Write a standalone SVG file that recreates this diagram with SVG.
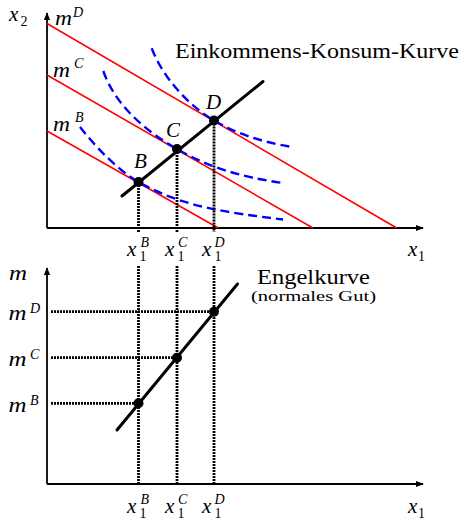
<svg xmlns="http://www.w3.org/2000/svg" width="464" height="519" viewBox="0 0 464 519">
<defs>
<marker id="arr" viewBox="0 0 10 10" refX="9" refY="5" markerWidth="8" markerHeight="8" markerUnits="userSpaceOnUse" orient="auto"><path d="M0,1 L10,5 L0,9 z" fill="#000"/></marker>
<style>
.axis{stroke:#000;stroke-width:1.8;fill:none}
.budget{stroke:#ff0000;stroke-width:1.5;fill:none}
.ic{stroke:#0000ff;stroke-width:2.4;fill:none;stroke-dasharray:9 5}
.curve{stroke:#000;stroke-width:3;stroke-linecap:round;fill:none}
.dot{fill:#000}
.dotted{stroke:#000;stroke-width:2.8;stroke-dasharray:2 1;fill:none}
.math{font-family:"Liberation Serif",serif;font-style:italic;font-size:21px;fill:#000}
.mm{font-family:"Liberation Serif",serif;font-style:italic;font-size:22px;fill:#000}
.sup{font-family:"Liberation Serif",serif;font-style:italic;font-size:14px;fill:#000}
.sub{font-family:"Liberation Serif",serif;font-size:14px;fill:#000}
.txt{font-family:"Liberation Serif",serif;font-size:20px;fill:#000}
.small{font-family:"Liberation Serif",serif;font-size:15px;fill:#000}
</style>
</defs>
<rect width="464" height="519" fill="#fff"/>

<g id="top-panel">
  <g id="top-axes">
    <line class="axis" x1="47" y1="228" x2="47" y2="13" marker-end="url(#arr)"/>
    <line class="axis" x1="47" y1="228" x2="423" y2="228" marker-end="url(#arr)"/>
    <text class="math" x="9" y="21">x</text><text class="sub" x="20.5" y="26">2</text>
    <text class="math" x="408" y="256">x</text><text class="sub" x="418" y="260.5">1</text>
  </g>
  <g id="budget-lines">
    <line class="budget" x1="47" y1="23.5" x2="396.7" y2="228"/>
    <line class="budget" x1="47" y1="75" x2="313" y2="228"/>
    <line class="budget" x1="47" y1="131" x2="218.3" y2="228"/>
    <text class="mm" x="55" y="25" textLength="17" lengthAdjust="spacingAndGlyphs">m</text><text class="sup" x="73" y="17">D</text>
    <text class="mm" x="53" y="76.5" textLength="17" lengthAdjust="spacingAndGlyphs">m</text><text class="sup" x="74" y="68">C</text>
    <text class="mm" x="53" y="131" textLength="17" lengthAdjust="spacingAndGlyphs">m</text><text class="sup" x="75" y="122">B</text>
  </g>
  <g id="indifference-curves">
    <path class="ic" d="M80,127 C98,150 120.5,171.8 138.5,182 C183.5,207.5 228,212.5 283,219.5"/>
    <path class="ic" d="M103.3,71 C115,105 145,130.6 177,149 C207,166.3 240,177.3 285,183.3"/>
    <path class="ic" d="M151.7,48.3 C163,78 189,105.9 214,120.5 C239,135.1 265.7,142.7 290.7,146.7"/>
  </g>
  <g id="connectors-top">
    <line class="dotted" x1="138.5" y1="182" x2="138.5" y2="232"/>
    <line class="dotted" x1="177" y1="149" x2="177" y2="232"/>
    <line class="dotted" x1="214" y1="120.5" x2="214" y2="232"/>
  </g>
  <g id="icc">
    <line class="curve" x1="122" y1="196" x2="263" y2="81.5"/>
    <text class="txt" x="175" y="58.3" textLength="284" lengthAdjust="spacingAndGlyphs">Einkommens-Konsum-Kurve</text>
  </g>
  <g id="point-B"><circle class="dot" cx="138.5" cy="182" r="5"/><text class="math" x="134" y="168">B</text></g>
  <g id="point-C"><circle class="dot" cx="177" cy="149" r="5"/><text class="math" x="166" y="136.5">C</text></g>
  <g id="point-D"><circle class="dot" cx="214" cy="120.5" r="5"/><text class="math" x="206" y="108.5">D</text></g>
  <g id="top-x-labels">
    <text class="math" x="127" y="256">x</text><text class="sub" x="139.5" y="260.5">1</text><text class="sup" x="140.5" y="246.5">B</text>
    <text class="math" x="165" y="256">x</text><text class="sub" x="177.5" y="260.5">1</text><text class="sup" x="178" y="246.5">C</text>
    <text class="math" x="202" y="256">x</text><text class="sub" x="214.5" y="260.5">1</text><text class="sup" x="214.5" y="246.5">D</text>
  </g>
</g>

<g id="bottom-panel">
  <g id="bottom-axes">
    <line class="axis" x1="47" y1="484" x2="47" y2="268" marker-end="url(#arr)"/>
    <line class="axis" x1="47" y1="484" x2="423" y2="484" marker-end="url(#arr)"/>
    <text class="mm" x="9" y="280" textLength="18" lengthAdjust="spacingAndGlyphs">m</text>
    <text class="math" x="408" y="513">x</text><text class="sub" x="418" y="517.5">1</text>
  </g>
  <g id="connectors-bottom">
    <line class="dotted" x1="138.5" y1="266" x2="138.5" y2="484"/>
    <line class="dotted" x1="177" y1="266" x2="177" y2="484"/>
    <line class="dotted" x1="214" y1="266" x2="214" y2="484"/>
    <line class="dotted" x1="51" y1="311.7" x2="214" y2="311.7"/>
    <line class="dotted" x1="51" y1="357.7" x2="177" y2="357.7"/>
    <line class="dotted" x1="51" y1="403.3" x2="138.5" y2="403.3"/>
  </g>
  <g id="m-labels">
    <text class="mm" x="8.5" y="320" textLength="18" lengthAdjust="spacingAndGlyphs">m</text><text class="sup" x="30" y="313">D</text>
    <text class="mm" x="8.5" y="366" textLength="18" lengthAdjust="spacingAndGlyphs">m</text><text class="sup" x="30" y="359">C</text>
    <text class="mm" x="8.5" y="411.5" textLength="18" lengthAdjust="spacingAndGlyphs">m</text><text class="sup" x="30" y="404.5">B</text>
  </g>
  <g id="engel-curve">
    <line class="curve" x1="117" y1="430" x2="237.5" y2="284"/>
    <circle class="dot" cx="138.5" cy="403.3" r="5"/>
    <circle class="dot" cx="177" cy="357.7" r="5"/>
    <circle class="dot" cx="214" cy="311.7" r="5"/>
    <text class="txt" x="257" y="283.5" textLength="113" lengthAdjust="spacingAndGlyphs">Engelkurve</text>
    <text class="small" x="251" y="300.5" textLength="125" lengthAdjust="spacingAndGlyphs">(normales Gut)</text>
  </g>
  <g id="bottom-x-labels">
    <text class="math" x="127" y="513">x</text><text class="sub" x="139.5" y="517.5">1</text><text class="sup" x="140.5" y="503.5">B</text>
    <text class="math" x="165" y="513">x</text><text class="sub" x="177.5" y="517.5">1</text><text class="sup" x="178" y="503.5">C</text>
    <text class="math" x="202" y="513">x</text><text class="sub" x="214.5" y="517.5">1</text><text class="sup" x="214.5" y="503.5">D</text>
  </g>
</g>
</svg>
